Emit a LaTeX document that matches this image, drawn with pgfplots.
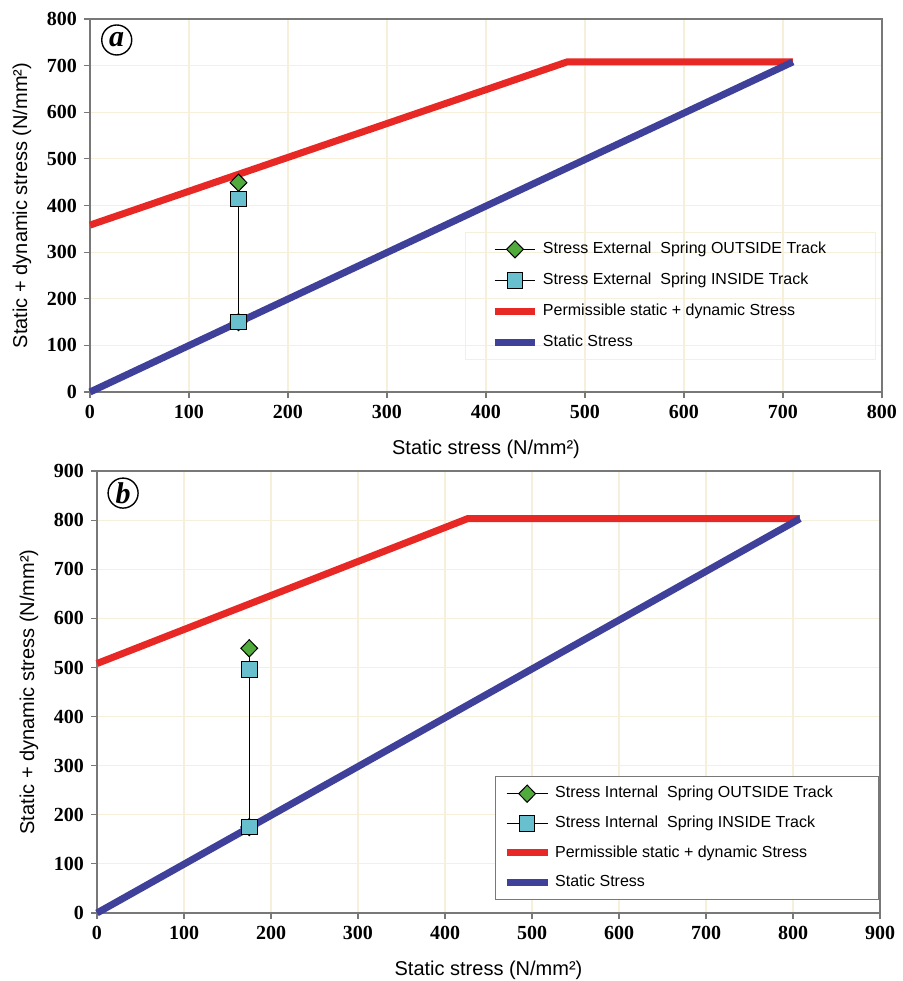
\documentclass[border=0pt]{standalone}
\usepackage{fontspec}
\setmainfont{Liberation Sans}
\newfontfamily\tickfont{Liberation Serif}
\usepackage{pgfplots}
\pgfplotsset{compat=1.18}
\definecolor{gridc}{RGB}{246,240,218}
\definecolor{redl}{RGB}{232,40,36}
\definecolor{bluel}{RGB}{62,64,153}
\definecolor{greenm}{RGB}{80,170,60}
\definecolor{cyanm}{RGB}{104,192,206}
\definecolor{axc}{RGB}{120,120,120}
\pgfplotsset{
  common/.style={
    scale only axis,
    grid=major,
    grid style={color=gridc, line width=0.6pt},
    axis line style={axc, line width=0.6pt},
    tick style={axc, line width=0.6pt},
    tick align=outside,
    major tick length=3pt,
    xtick pos=bottom, ytick pos=left,
    /pgf/number format/assume math mode=true,
    tick label style={font=\tickfont\bfseries\fontsize{10}{12}\selectfont},
    xlabel style={font=\fontsize{10}{12}\selectfont, yshift=-4pt},
    ylabel style={font=\fontsize{10}{12}\selectfont, yshift=1pt},
    legend cell align=left,
    legend image code/.code={%
      \draw[mark repeat=2,mark phase=2] plot coordinates {(0cm,0cm) (0.36cm,0cm) (0.72cm,0cm)};},
    clip=false,
  },
  outs/.style={black, line width=0.7pt, mark=diamond*, mark size=4.3pt,
    mark options={fill=greenm, draw=black, line width=0.5pt, xscale=1.3}},
  ins/.style={black, line width=0.7pt, mark=square*, mark size=3.9pt,
    mark options={fill=cyanm, draw=black, line width=0.5pt}},
  perm/.style={redl, line width=3.5pt, no marks},
  stat/.style={bluel, line width=3.5pt, no marks},
}
\begin{document}
\begin{tikzpicture}
\path[use as bounding box] (0,0) rectangle (451pt,-490.5pt);
\begin{axis}[common,
  at={(45pt,-9.5pt)}, anchor=north west,
  width=396pt, height=186.5pt,
  xmin=0, xmax=800, ymin=0, ymax=800,
  xtick distance=100, ytick distance=100,
  xlabel={Static stress (N/mm²)},
  ylabel={Static + dynamic stress (N/mm²)},
  legend style={at={(0.473,0.43)}, anchor=north west, draw=gridc, fill=none,
    font=\fontsize{8}{10}\selectfont, row sep=4.2pt, inner xsep=13pt, inner ysep=3pt},
]
\addplot[outs] coordinates {(150,150) (150,449)};
\addlegendentry{Stress External\ \ Spring OUTSIDE Track\rule{9.5pt}{0pt}}
\addplot[ins] coordinates {(150,150) (150,414)};
\addlegendentry{Stress External\ \ Spring INSIDE Track}
\addplot[perm] coordinates {(0,358) (482,708) (710,708)};
\addlegendentry{Permissible static + dynamic Stress}
\addplot[stat] coordinates {(0,0) (710,708)};
\addlegendentry{Static Stress}
\node[circle, draw, line width=0.7pt, inner sep=0pt, minimum size=15pt,
  font=\tickfont\bfseries\itshape\fontsize{15}{15}\selectfont] at (axis cs:27,755) {a};
\end{axis}
\begin{axis}[common,
  at={(48.5pt,-235.5pt)}, anchor=north west,
  width=391.5pt, height=221pt,
  xmin=0, xmax=900, ymin=0, ymax=900,
  xtick distance=100, ytick distance=100,
  xlabel={Static stress (N/mm²)},
  ylabel={Static + dynamic stress (N/mm²)},
  legend style={at={(0.508,0.310)}, anchor=north west, draw=axc, fill=white,
    font=\fontsize{8}{10}\selectfont, row sep=3.5pt, inner xsep=4pt, inner ysep=3pt},
]
\addplot[outs] coordinates {(175,175) (175,539)};
\addlegendentry{Stress Internal\ \ Spring OUTSIDE Track\rule{17pt}{0pt}}
\addplot[ins] coordinates {(175,175) (175,496)};
\addlegendentry{Stress Internal\ \ Spring INSIDE Track}
\addplot[perm] coordinates {(0,508) (426,803) (808,803)};
\addlegendentry{Permissible static + dynamic Stress}
\addplot[stat] coordinates {(0,0) (808,803)};
\addlegendentry{Static Stress}
\node[circle, draw, line width=0.7pt, inner sep=0pt, minimum size=15pt,
  font=\tickfont\bfseries\itshape\fontsize{15}{15}\selectfont] at (axis cs:30,855) {b};
\end{axis}
\end{tikzpicture}
\end{document}
